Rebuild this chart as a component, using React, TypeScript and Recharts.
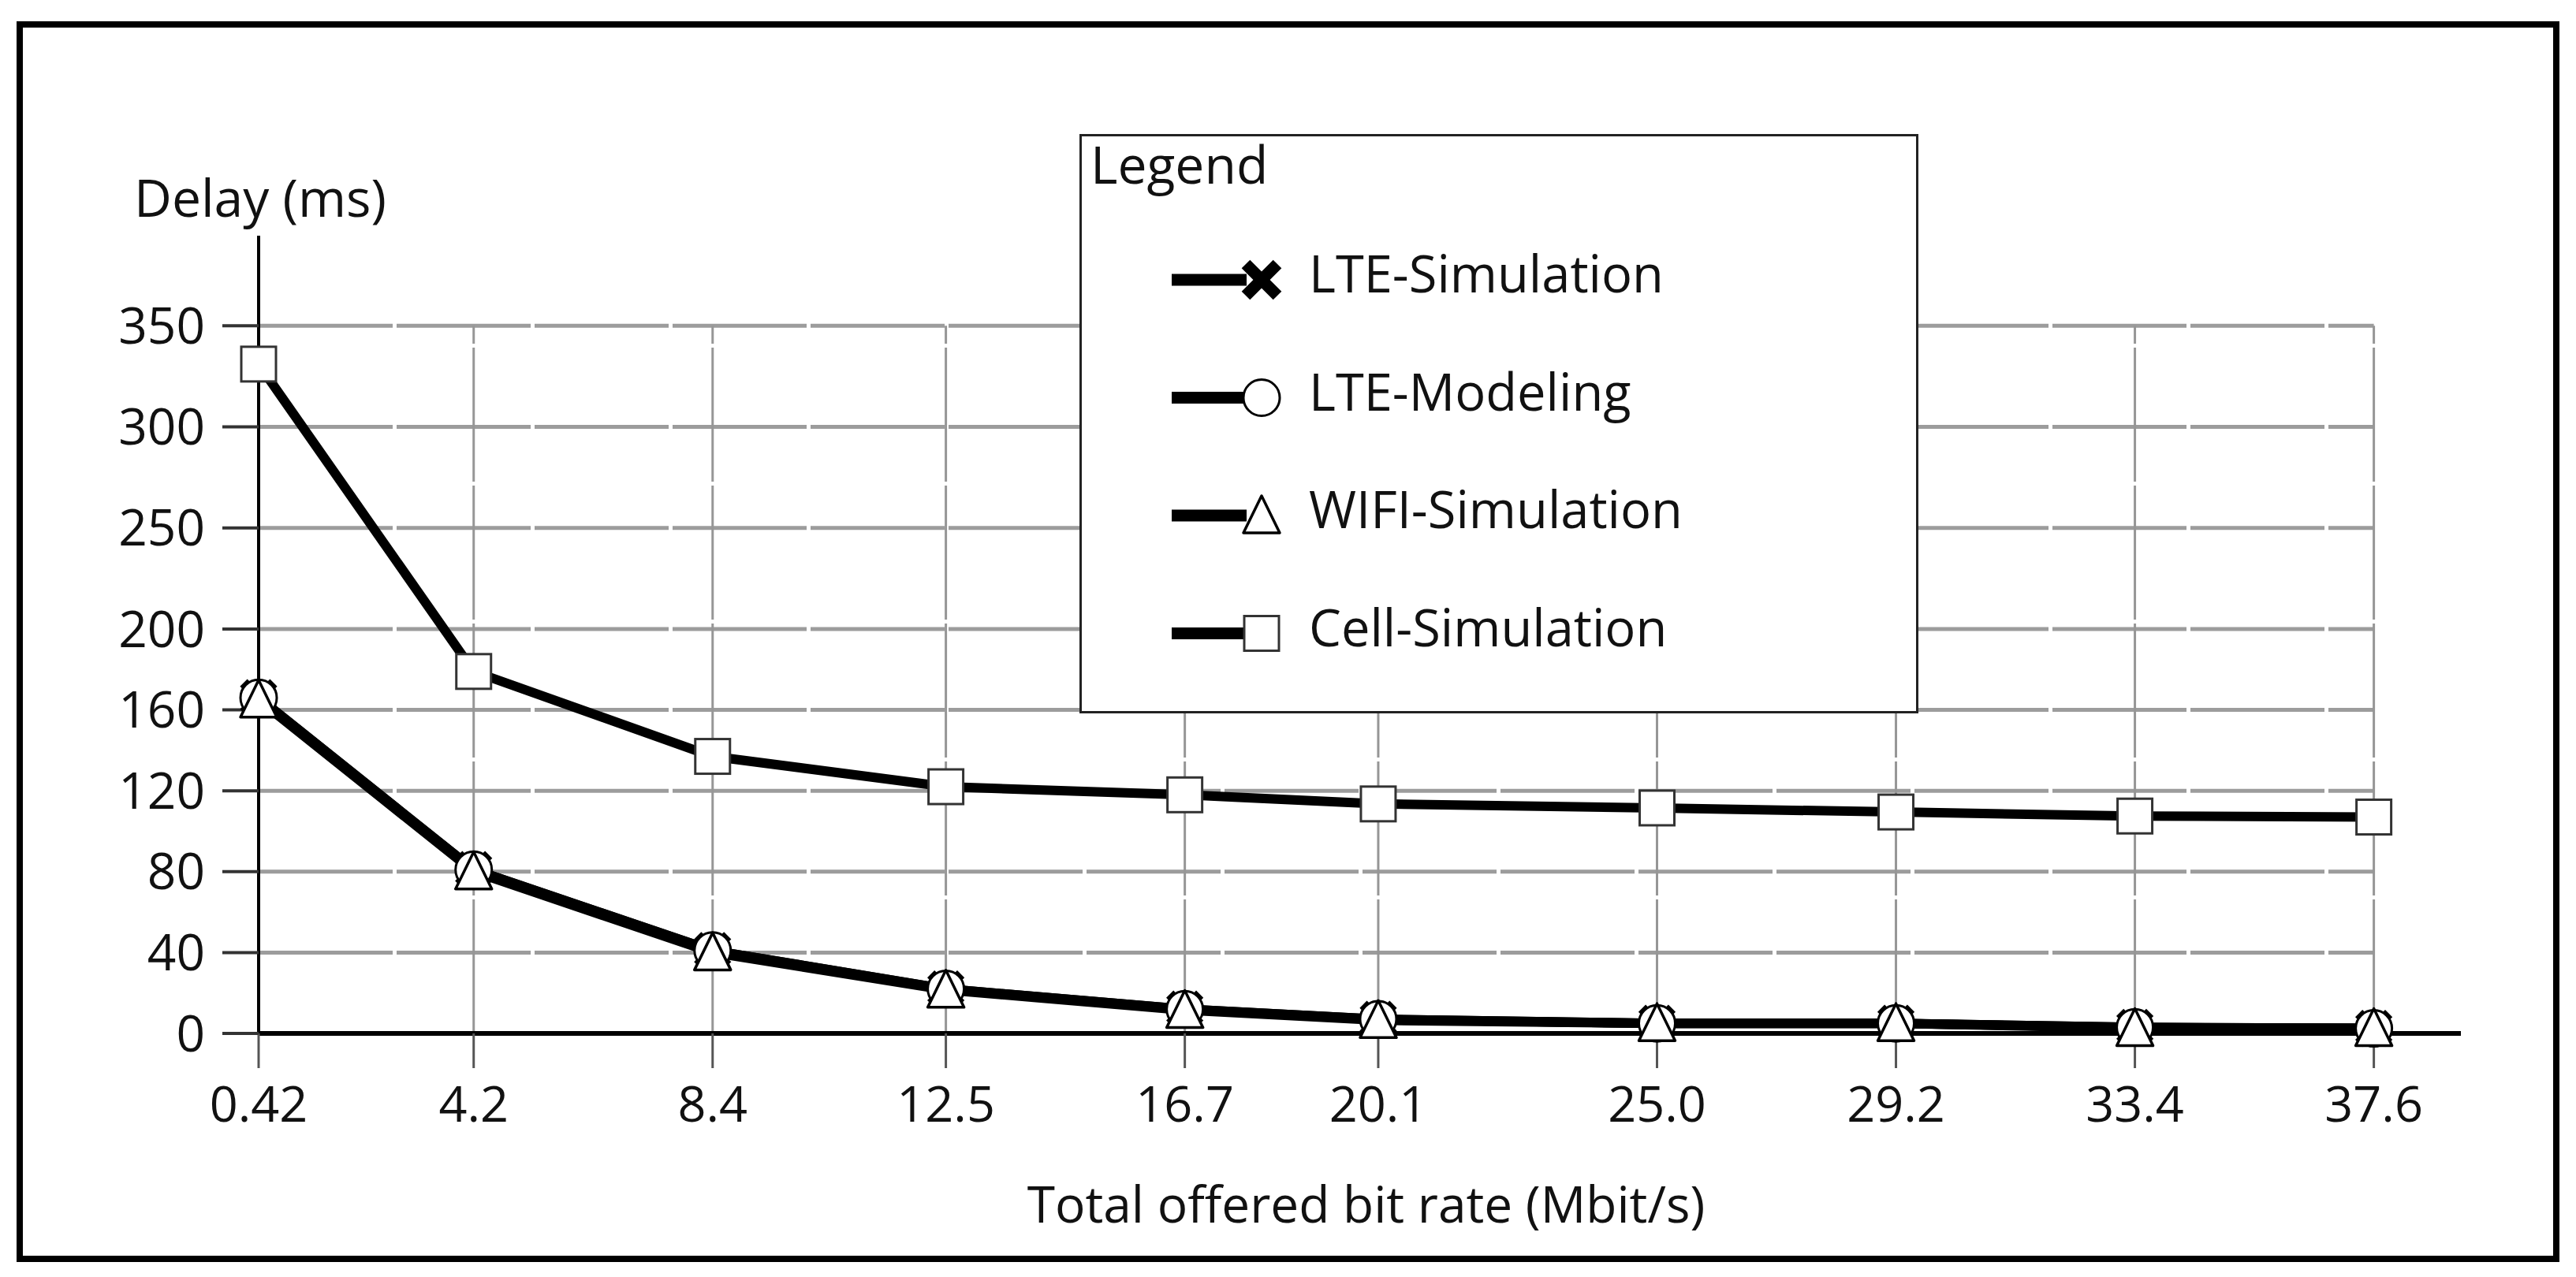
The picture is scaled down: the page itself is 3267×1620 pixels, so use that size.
import React from 'react'
import { LineChart, Line, XAxis, YAxis, ReferenceLine, Legend } from 'recharts'

// offered bit rate (Mbit/s) and the delay (ms)
const xValues = [0.42, 4.2, 8.4, 12.5, 16.7, 20.1, 25.0, 29.2, 33.4, 37.6]
const xTickLabels = ['0.42', '4.2', '8.4', '12.5', '16.7', '20.1', '25.0', '29.2', '33.4', '37.6']
const yTicks = [0, 40, 80, 120, 160, 200, 250, 300, 350]

const lteSimulation = [166, 81, 41, 22, 12, 7, 5, 5, 3, 2.5]
const lteModeling = [166, 81, 41, 22, 12, 7, 5, 5, 3, 2.5]
const wifiSimulation = [165, 80, 40, 21.5, 11.5, 6.5, 5, 5, 2.5, 2.5]
const cellSimulation = [331, 179, 137, 122, 118, 113.5, 111.5, 109.5, 107.5, 107]

const seriesKeys = ['lteSim', 'lteMod', 'wifi', 'cell']
const seriesNames = ['LTE-Simulation', 'LTE-Modeling', 'WIFI-Simulation', 'Cell-Simulation']

const data = xValues.map((x, i) => ({
  x,
  lteSim: lteSimulation[i],
  lteMod: lteModeling[i],
  wifi: wifiSimulation[i],
  cell: cellSimulation[i],
}))

const FONT = '"Open Sans", sans-serif'

function XMark({ cx, cy, size = 20, width = 14 }: any) {
  return (
    <g>
      <line x1={cx - size} y1={cy - size} x2={cx + size} y2={cy + size} stroke="#000" strokeWidth={width} />
      <line x1={cx - size} y1={cy + size} x2={cx + size} y2={cy - size} stroke="#000" strokeWidth={width} />
    </g>
  )
}

function CircleMark({ cx, cy }: any) {
  return <circle cx={cx} cy={cy} r={23} fill="#fff" stroke="#000" strokeWidth={3} />
}

function TriangleMark({ cx, cy }: any) {
  return (
    <polygon
      points={`${cx},${cy - 25} ${cx + 23},${cy + 22} ${cx - 23},${cy + 22}`}
      fill="#fff"
      stroke="#000"
      strokeWidth={3.5}
      strokeLinejoin="round"
    />
  )
}

function SquareMark({ cx, cy }: any) {
  return <rect x={cx - 22} y={cy - 22} width={44} height={44} fill="#fff" stroke="#333" strokeWidth={3} />
}

const markers: Record<string, (p: any) => React.ReactElement> = {
  lteSim: (p) => <XMark {...p} size={19} width={13} />,
  lteMod: (p) => <CircleMark {...p} />,
  wifi: (p) => <TriangleMark {...p} />,
  cell: (p) => <SquareMark {...p} />,
}

function dotFor(key: string) {
  return (props: any) => {
    if (props.cx == null || props.cy == null) return <g key={`${key}-${props.index}`} />
    return <g key={`${key}-${props.index}`}>{markers[key]({ cx: props.cx, cy: props.cy })}</g>
  }
}

// legend drawn 20px lower inside its svg so the title's font box stays inside
const PAD = 20

function LegendBox({ payload }: any) {
  const items = [...(payload ?? [])].sort(
    (a: any, b: any) => seriesKeys.indexOf(a.dataKey) - seriesKeys.indexOf(b.dataKey)
  )
  return (
    <svg width={1064} height={735 + PAD} style={{ display: 'block', fontFamily: FONT, overflow: 'visible' }}>
      <g transform={`translate(0, ${PAD})`}>
        <rect x={1.5} y={1.5} width={1061} height={732} fill="#fff" stroke="#222" strokeWidth={3} />
        <text x={14} y={63} fontSize={66} fill="#111">Legend</text>
        {items.map((item: any, i: number) => {
          const cy = 185 + i * 149.5
          return (
            <g key={item.dataKey}>
              <line x1={117} y1={cy} x2={212} y2={cy} stroke="#000" strokeWidth={15} />
              {item.dataKey === 'lteSim'
                ? <XMark cx={231} cy={cy} size={20} width={15} />
                : markers[item.dataKey]({ cx: 231, cy })}
              <text x={291} y={cy + 16} fontSize={65} fill="#111">{item.value}</text>
            </g>
          )
        })}
      </g>
    </svg>
  )
}

export default function App() {
  return (
    <div style={{ position: 'absolute', left: 0, top: 0, width: 3267, height: 1620, background: '#fff', fontFamily: FONT }}>
      <div
        style={{
          position: 'absolute', left: 21, top: 27, width: 3225, height: 1574,
          border: '8px solid #000', boxSizing: 'border-box',
        }}
      />
      <LineChart width={3267} height={1620} data={data} margin={{ top: 299, right: 146, left: 128, bottom: 209 }}>
        {yTicks.filter((t) => t > 0).map((t) => (
          <ReferenceLine
            key={`h${t}`}
            segment={[{ x: xValues[0], y: t }, { x: xValues[xValues.length - 1], y: t }]}
            stroke="#9c9c9c"
            strokeWidth={5}
            strokeDasharray="170 5"
          />
        ))}
        {xValues.slice(1).map((v) => (
          <ReferenceLine
            key={`v${v}`}
            segment={[{ x: v, y: 0 }, { x: v, y: yTicks[yTicks.length - 1] }]}
            stroke="#969696"
            strokeWidth={3}
            strokeDasharray="170 5"
          />
        ))}
        <XAxis
          type="number"
          dataKey="x"
          domain={[0.42, 39.13]}
          ticks={xValues}
          interval={0}
          height={100}
          tickSize={44}
          tickMargin={23}
          tickFormatter={(v: number) => xTickLabels[xValues.indexOf(v)] ?? String(v)}
          tick={{ fill: '#111', fontSize: 63, fontFamily: FONT }}
          tickLine={{ stroke: '#555', strokeWidth: 3 }}
          axisLine={{ stroke: '#000', strokeWidth: 6 }}
          label={{
            content: ({ viewBox }: any) => (
              <text
                x={viewBox.x + viewBox.width / 2 + 8}
                y={viewBox.y + 240}
                textAnchor="middle"
                fontSize={64}
                fill="#111"
                fontFamily={FONT}
              >
                Total offered bit rate (Mbit/s)
              </text>
            ),
          }}
        />
        <YAxis
          type="number"
          domain={[0, 394.5]}
          ticks={yTicks}
          interval={0}
          width={200}
          tickSize={46}
          tickMargin={22}
          tick={{ fill: '#111', fontSize: 64, fontFamily: FONT }}
          tickLine={{ stroke: '#333', strokeWidth: 4 }}
          axisLine={{ stroke: '#000', strokeWidth: 4 }}
          label={{
            content: ({ viewBox }: any) => (
              <text x={viewBox.x + 42} y={viewBox.y - 24} fontSize={66} fill="#111" fontFamily={FONT}>
                Delay (ms)
              </text>
            ),
          }}
        />
        <Legend
          layout="horizontal"
          verticalAlign="middle"
          align="center"
          content={<LegendBox />}
          wrapperStyle={{ position: 'absolute', left: 1369, top: 170 - PAD, width: 1064, height: 735 + PAD }}
        />
        {seriesKeys.map((key, i) => (
          <Line
            key={key}
            dataKey={key}
            name={seriesNames[i]}
            stroke="#000"
            strokeWidth={12}
            dot={dotFor(key)}
            activeDot={false}
            isAnimationActive={false}
          />
        ))}
      </LineChart>
    </div>
  )
}
